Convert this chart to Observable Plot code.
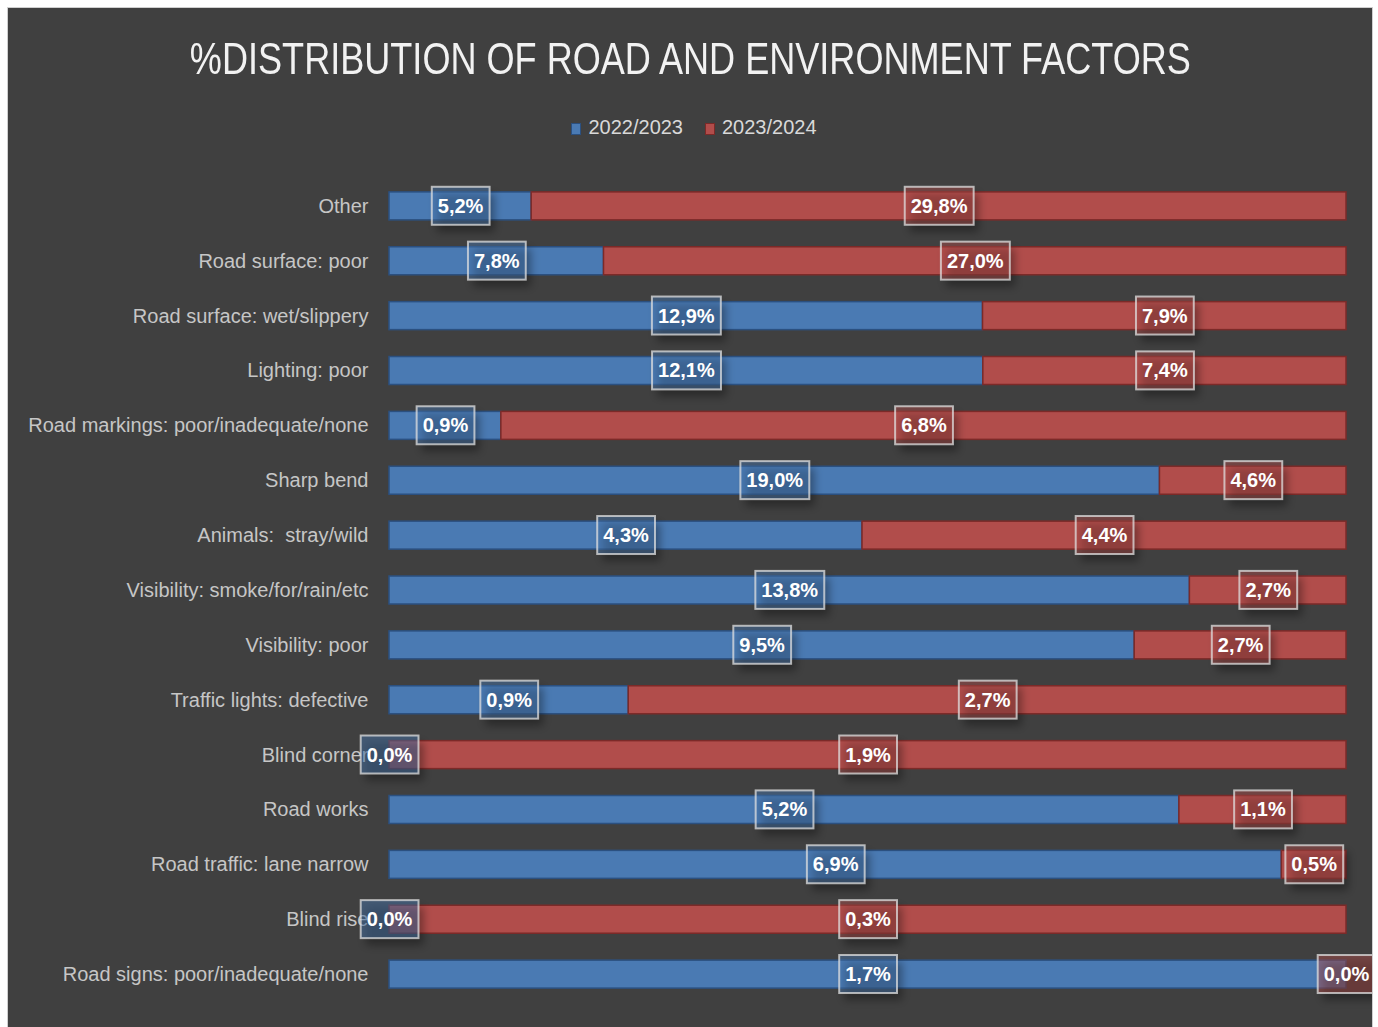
<!DOCTYPE html>
<html>
<head>
<meta charset="utf-8">
<script src="https://cdn.jsdelivr.net/npm/d3@7"></script>
<script src="https://cdn.jsdelivr.net/npm/@observablehq/plot@0.6"></script>
<style>
html,body{margin:0;padding:0;background:#ffffff;}
#frame{position:absolute;left:7px;top:7px;width:1366px;height:1040px;background:#404040;border:1px solid #cfcfcf;box-sizing:border-box;overflow:hidden;font-family:"Liberation Sans",Arial,sans-serif;}
#title{position:absolute;top:26px;left:0;width:100%;text-align:center;color:#f2f2f2;font-size:44px;line-height:normal;white-space:nowrap;}
#title span{display:inline-block;transform:scaleX(0.82);}
#legend{position:absolute;top:108px;left:0;width:100%;display:flex;justify-content:center;padding-left:8px;box-sizing:border-box;font-size:20px;line-height:normal;color:#d9d9d9;}
#legend .item{display:flex;align-items:center;margin:0 11px;}
#legend .sw{width:8px;height:10px;border:1px solid;margin-right:7px;margin-top:2px;}
#chart{position:absolute;left:0;top:152px;}
</style>
</head>
<body>
<div id="frame">
  <div id="title"><span>%DISTRIBUTION OF ROAD AND ENVIRONMENT FACTORS</span></div>
  <div id="legend"></div>
  <div id="chart"></div>
</div>
<script>
const factors = [
  "Other",
  "Road surface: poor",
  "Road surface: wet/slippery",
  "Lighting: poor",
  "Road markings: poor/inadequate/none",
  "Sharp bend",
  "Animals:  stray/wild",
  "Visibility: smoke/for/rain/etc",
  "Visibility: poor",
  "Traffic lights: defective",
  "Blind corner",
  "Road works",
  "Road traffic: lane narrow",
  "Blind rise",
  "Road signs: poor/inadequate/none"
];
const values2022_2023 = [5.2, 7.8, 12.9, 12.1, 0.9, 19.0, 4.3, 13.8, 9.5, 0.9, 0.0, 5.2, 6.9, 0.0, 1.7];
const values2023_2024 = [29.8, 27.0, 7.9, 7.4, 6.8, 4.6, 4.4, 2.7, 2.7, 2.7, 1.9, 1.1, 0.5, 0.3, 0.0];
const seriesNames = ["2022/2023", "2023/2024"];
const seriesFill = {"2022/2023": "#4a7ab3", "2023/2024": "#b14d4b"};
const seriesStroke = {"2022/2023": "#2b5080", "2023/2024": "#7c2a28"};

const data = factors.flatMap((f, i) => [
  {factor: f, series: seriesNames[0], value: values2022_2023[i]},
  {factor: f, series: seriesNames[1], value: values2023_2024[i]}
]);
const fmt = v => v.toFixed(1).replace(".", ",") + "%";

// legend
const legend = document.getElementById("legend");
for (const s of seriesNames) {
  const it = document.createElement("div");
  it.className = "item";
  it.innerHTML = `<div class="sw" style="background:${seriesFill[s]};border-color:${seriesStroke[s]}"></div><span>${s}</span>`;
  legend.append(it);
}

const chart = Plot.plot({
  width: 1364,
  height: 865,
  marginLeft: 381,
  marginRight: 26,
  marginTop: 5,
  marginBottom: 10,
  style: {background: "transparent", color: "#c6c6c6", fontFamily: "'Liberation Sans', Arial, sans-serif", fontSize: "20px"},
  x: {domain: [0, 1], axis: null},
  y: {domain: factors, padding: 0.49, round: false, tickSize: 0, tickPadding: 21, label: null},
  marks: [
    Plot.barX(data, Plot.stackX({
      x: "value", y: "factor", z: "series", offset: "normalize",
      fill: d => seriesFill[d.series], stroke: d => seriesStroke[d.series], strokeWidth: 1.5
    })),
    Plot.text(data, Plot.stackX({
      x: "value", y: "factor", z: "series", offset: "normalize",
      text: d => fmt(d.value), ariaLabel: d => d.series,
      fill: "white", fontWeight: "bold", fontSize: 20
    }))
  ]
});
document.getElementById("chart").append(chart);

// label boxes with shadows
const ns = "http://www.w3.org/2000/svg";
const defs = document.createElementNS(ns, "defs");
defs.innerHTML = '<filter id="lblshadow" x="-50%" y="-50%" width="200%" height="200%"><feGaussianBlur stdDeviation="4"/></filter>';
chart.prepend(defs);
const textGs = [...chart.querySelectorAll('g[aria-label="text"]')];
const textG = textGs[textGs.length - 1];
const texts = [...textG.querySelectorAll("text")];
texts.forEach((t, i) => {
  let s = t.getAttribute("aria-label");
  if (!seriesFill[s]) s = data[i].series;
  const bb = t.getBBox();
  const cy = bb.y + bb.height / 2;
  const w = bb.width + 12, h = 38;
  const tr = t.getAttribute("transform");
  const sh = document.createElementNS(ns, "rect");
  sh.setAttribute("x", bb.x - 6 + 5);
  sh.setAttribute("y", cy - h / 2 + 7);
  sh.setAttribute("width", w);
  sh.setAttribute("height", h);
  sh.setAttribute("fill", "#000");
  sh.setAttribute("fill-opacity", "0.35");
  sh.setAttribute("filter", "url(#lblshadow)");
  if (tr) sh.setAttribute("transform", tr);
  const r = document.createElementNS(ns, "rect");
  r.setAttribute("x", bb.x - 6);
  r.setAttribute("y", cy - h / 2);
  r.setAttribute("width", w);
  r.setAttribute("height", h);
  r.setAttribute("fill", seriesFill[s]);
  r.setAttribute("fill-opacity", "0.45");
  r.setAttribute("stroke", "#e0e0e0");
  r.setAttribute("stroke-opacity", "0.75");
  r.setAttribute("stroke-width", "2");
  if (tr) r.setAttribute("transform", tr);
  t.before(sh);
  t.before(r);
});
</script>
</body>
</html>
